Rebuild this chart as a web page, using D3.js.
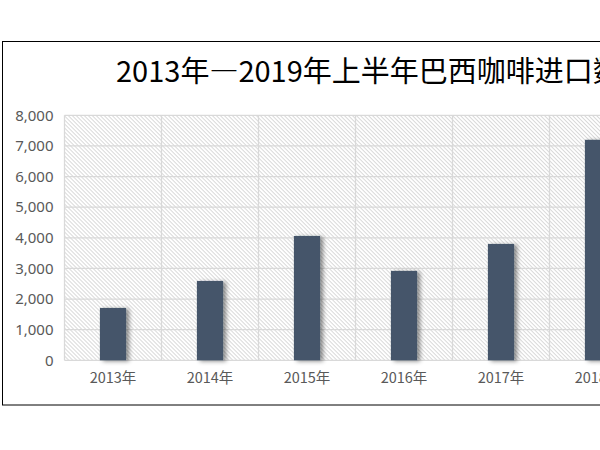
<!DOCTYPE html>
<html lang="zh-CN">
<head>
<meta charset="utf-8">
<script src="https://cdn.jsdelivr.net/npm/d3@7"></script>
<style>
  html, body { margin: 0; padding: 0; background: #fff; overflow: hidden; }
  svg { display: block; }
</style>
</head>
<body>
<svg class="chart"></svg>
<script>
// Chart data
const categories = ["2013年", "2014年", "2015年", "2016年", "2017年", "2018年"];
const imports = [1710, 2590, 4060, 2920, 3800, 7200];
const yTicks = [0, 1000, 2000, 3000, 4000, 5000, 6000, 7000, 8000];
const titleText = "2013年—2019年上半年巴西咖啡进口数量";

const width = 600;
const height = 450;

// Plot area (the chart is wider than the window, the right part is cut off)
const plot = { left: 64.5, top: 115.3, bottom: 360.3, bandWidth: 97, right: 800 };

const svg = d3.select(".chart")
    .attr("width", width)
    .attr("height", height);

const defs = svg.append("defs");

// Fine diagonal hatch for the plot area
const hatch = defs.append("pattern")
    .attr("id", "hatch")
    .attr("patternUnits", "userSpaceOnUse")
    .attr("width", 2.83)
    .attr("height", 2.83)
    .attr("patternTransform", "rotate(-45)");
hatch.append("rect").attr("width", 2.83).attr("height", 2.83).attr("fill", "#fff");
hatch.append("line")
    .attr("x1", 0.5).attr("y1", 0).attr("x2", 0.5).attr("y2", 2.83)
    .attr("stroke", "#d0d0d0")
    .attr("stroke-width", 0.8);

// Soft shadow to the lower right of the bars
defs.append("filter")
    .attr("id", "shadow")
    .attr("x", "-20%").attr("y", "-10%")
    .attr("width", "160%").attr("height", "130%")
    .append("feDropShadow")
    .attr("dx", 3).attr("dy", 1)
    .attr("stdDeviation", 2)
    .attr("flood-color", "#000")
    .attr("flood-opacity", 0.45);

// Scales
const x = d3.scaleBand()
    .domain(categories)
    .range([plot.left, plot.left + plot.bandWidth * categories.length])
    .paddingInner(0.73)
    .paddingOuter(0.365);

const y = d3.scaleLinear()
    .domain([0, 8000])
    .range([plot.bottom, plot.top]);

// Chart frame
svg.append("rect")
    .attr("x", 2.5).attr("y", 41.5)
    .attr("width", 900).attr("height", 363.5)
    .attr("fill", "#fff")
    .attr("stroke", "#000")
    .attr("stroke-width", 1);

// Title
svg.append("text")
    .attr("x", 116)
    .attr("y", 81.5)
    .attr("font-family", "'Noto Sans CJK SC', sans-serif")
    .attr("font-size", 29)
    .attr("fill", "#000")
    .text(titleText);

// Plot background
svg.append("rect")
    .attr("x", plot.left).attr("y", plot.top)
    .attr("width", plot.right - plot.left)
    .attr("height", plot.bottom - plot.top)
    .attr("fill", "url(#hatch)");

// Horizontal gridlines
svg.append("g")
    .selectAll("line")
    .data(yTicks)
    .enter()
    .append("line")
    .attr("x1", plot.left).attr("x2", plot.right)
    .attr("y1", d => y(d)).attr("y2", d => y(d))
    .attr("stroke", "#d9d9d9")
    .attr("stroke-width", 1.3);

// Vertical gridlines at the category boundaries
const step = x.step();
const bounds = d3.range(categories.length + 2).map(i => plot.left + i * step);
svg.append("g")
    .selectAll("line")
    .data(bounds)
    .enter()
    .append("line")
    .attr("x1", d => d).attr("x2", d => d)
    .attr("y1", plot.top).attr("y2", plot.bottom)
    .attr("stroke", "#d9d9d9")
    .attr("stroke-width", 1.3);

// Y axis labels
const yAxis = d3.axisLeft(y)
    .tickValues(yTicks)
    .tickFormat(d3.format(","))
    .tickSize(0)
    .tickPadding(11);

const yG = svg.append("g")
    .attr("transform", `translate(${plot.left},0)`)
    .call(yAxis);
yG.select(".domain").remove();
yG.selectAll("text")
    .attr("font-family", "'Noto Sans', sans-serif")
    .attr("font-size", 15)
    .attr("fill", "#595959");

// X axis labels
const xAxis = d3.axisBottom(x).tickSize(0).tickPadding(12);
const xG = svg.append("g")
    .attr("transform", `translate(0,${plot.bottom})`)
    .call(xAxis);
xG.select(".domain").remove();
xG.selectAll("text")
    .attr("font-family", "'Noto Sans CJK SC', sans-serif")
    .attr("font-size", 14.5)
    .attr("fill", "#595959");

// Bars
svg.append("g")
    .selectAll("rect")
    .data(categories.map((c, i) => ({ cat: c, value: imports[i] })))
    .enter()
    .append("rect")
    .attr("x", d => x(d.cat))
    .attr("y", d => y(d.value))
    .attr("width", x.bandwidth())
    .attr("height", d => y(0) - y(d.value))
    .attr("fill", "#44546A")
    .attr("filter", "url(#shadow)");
</script>
</body>
</html>
